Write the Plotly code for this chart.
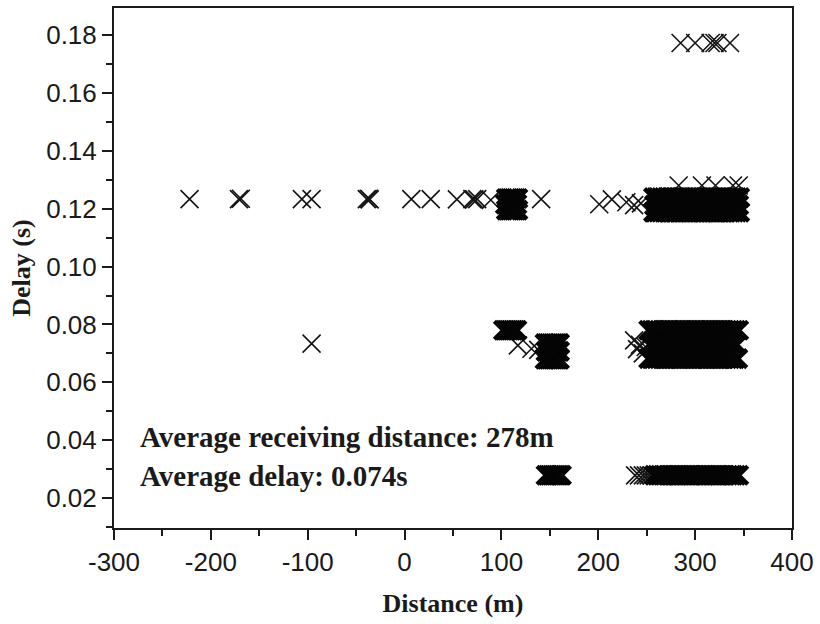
import plotly.graph_objects as go

# ---- data: receiving distance (m) vs. delay (s) ----

# isolated receptions: distance and delay per point
sparse_dist = [-222, -171, -169, -106, -96, -39, -37, -36, 7, 27, 54, 70, 72, 75, 89, 141,
               201, 214, 229, 237, 244,
               -96, 117, 131, 138,
               237, 240, 243, 246, 249,
               238, 242, 246, 249, 252, 255]
sparse_delay = [0.1233, 0.1233, 0.1234, 0.1233, 0.1233, 0.1233, 0.1234, 0.1232, 0.1233, 0.1233,
                0.1232, 0.1233, 0.1232, 0.1233, 0.1230, 0.1233,
                0.1215, 0.1232, 0.1222, 0.1212, 0.1218,
                0.0734, 0.0728, 0.0716, 0.0712,
                0.0745, 0.0715, 0.0730, 0.0700, 0.0722,
                0.0279, 0.0279, 0.0279, 0.0279, 0.0279, 0.0279]

# highest-delay receptions
top_dist = [285, 300, 316, 320, 323, 336]
top_delay = 0.1772

upper_dist = [283, 307, 321, 339, 345]
upper_delay = 0.1280

# near group around 100-120 m, delay ~0.12 s
near12_a = [105, 107, 109, 111, 113, 115, 117]
near12_b = [104, 106, 108, 110, 112, 114, 116]
near12_c = [105, 107, 109, 111, 113, 115, 117]

# near group around 100-120 m, delay ~0.078 s
near078 = [102, 104, 106, 108, 110, 112, 114, 116]

# group around 145-160 m, delay ~0.07 s
mid07_a = [145, 147, 149, 151, 153, 155, 157, 159, 160]
mid07_b = [146, 148, 150, 152, 154, 156, 158, 160]
mid07_c = [145, 147, 149, 151, 153, 155, 157, 159, 160]

# group around 145-162 m, delay ~0.028 s
mid028 = [146, 148, 150, 152, 154, 156, 158, 160, 162]

# far group, delay ~0.12 s
far12_a = [257, 260, 262, 265, 268, 271, 273, 276, 279, 282, 285, 287, 290, 293, 296,
           299, 301, 304, 307, 310, 313, 315, 318, 321, 324, 327, 329, 332, 335, 338,
           341, 343, 346]
far12_b = [258, 261, 264, 266, 269, 272, 275, 278, 280, 283, 286, 289, 292, 294, 297,
           300, 303, 306, 308, 311, 314, 317, 320, 322, 325, 328, 331, 334, 336, 339,
           342, 345]
far12_c = [257, 259, 262, 265, 268, 270, 273, 276, 279, 281, 284, 287, 290, 293, 295,
           298, 301, 304, 307, 309, 312, 315, 318, 321, 323, 326, 329, 332, 335, 337,
           340, 343, 346]

# far group, delay ~0.07 s
far07_a = [252, 255, 258, 260, 263, 266, 269, 272, 274, 277, 280, 283, 286, 288, 291,
           294, 297, 300, 302, 305, 308, 311, 314, 316, 319, 322, 325, 328, 330, 333,
           336, 339, 342, 345]
far07_b = [253, 256, 259, 262, 264, 267, 270, 273, 276, 278, 281, 284, 287, 290, 292,
           295, 298, 301, 304, 306, 309, 312, 315, 318, 320, 323, 326, 329, 332, 334,
           337, 340, 343]
far07_c = [252, 255, 257, 260, 263, 266, 269, 271, 274, 277, 280, 283, 285, 288, 291,
           294, 297, 299, 302, 305, 308, 311, 313, 316, 319, 322, 325, 327, 330, 333,
           336, 339, 341, 344]

# far group, delay ~0.028 s
far028 = [258, 261, 264, 267, 269, 272, 275, 278, 281, 283, 286, 289, 292, 295, 297,
          300, 303, 306, 309, 311, 314, 317, 320, 323, 325, 328, 331, 334, 337, 339,
          342, 345]

light_rows = [(top_dist, top_delay), (upper_dist, upper_delay)]
dense_rows = [
    (near12_a, 0.1235), (near12_b, 0.1215), (near12_c, 0.1195),
    (near078, 0.0780),
    (mid07_a, 0.0734), (mid07_b, 0.0707), (mid07_c, 0.0680),
    (mid028, 0.0279),
    (far12_a, 0.1238), (far12_b, 0.1212), (far12_c, 0.1188),
    (far07_a, 0.0780), (far07_b, 0.0730), (far07_c, 0.0682),
    (far028, 0.0279),
]

x_tick_vals = [-300, -200, -100, 0, 100, 200, 300, 400]
x_tick_text = ["-300", "-200", "-100", "0", "100", "200", "300", "400"]
y_tick_vals = [0.02, 0.04, 0.06, 0.08, 0.10, 0.12, 0.14, 0.16, 0.18]


def flatten(rows):
    xs, ys = [], []
    for dist, delay in rows:
        xs += dist
        ys += [delay] * len(dist)
    return xs, ys


ink = "#141414"
fig = go.Figure()

# individual receptions drawn with thin crosses
lx, ly = flatten(light_rows)
fig.add_trace(go.Scatter(
    x=list(sparse_dist) + lx, y=list(sparse_delay) + ly, mode="markers",
    marker=dict(symbol="x-thin-open", size=18, color=ink, line=dict(width=1.6, color=ink)),
    showlegend=False, hoverinfo="x+y",
))

# heavily overlapping receptions
dx, dy = flatten(dense_rows)
fig.add_trace(go.Scatter(
    x=dx, y=dy, mode="markers",
    marker=dict(symbol="x-thin-open", size=18, color="#050505",
                line=dict(width=4.4, color="#050505")),
    showlegend=False, hoverinfo="x+y",
))

tick_font = dict(family="Liberation Sans, Arial, sans-serif", size=26, color="#1a1a1a")
title_font = dict(family="Liberation Serif, Times New Roman, serif", size=26,
                  color="#1a1a1a", weight="bold")

fig.update_xaxes(
    range=[-300, 400], tickvals=x_tick_vals, ticktext=x_tick_text,
    ticks="outside", ticklen=10, tickwidth=2, tickcolor="#1a1a1a",
    minor=dict(dtick=50, tick0=0, ticks="outside", ticklen=6, tickwidth=2, tickcolor="#1a1a1a"),
    showline=True, linewidth=2, linecolor="#1a1a1a", mirror=True,
    showgrid=False, zeroline=False, tickfont=tick_font,
    title=dict(text="Distance (m)", font=title_font, standoff=18),
)
fig.update_yaxes(
    range=[0.0097, 0.1893], tickvals=y_tick_vals, tickformat=".2f",
    ticks="outside", ticklen=10, tickwidth=2, tickcolor="#1a1a1a",
    minor=dict(dtick=0.01, tick0=0, ticks="outside", ticklen=6, tickwidth=2, tickcolor="#1a1a1a"),
    showline=True, linewidth=2, linecolor="#1a1a1a", mirror=True,
    showgrid=False, zeroline=False, tickfont=tick_font,
    title=dict(text="Delay (s)", font=title_font, standoff=8),
)

note_font = dict(family="Liberation Serif, Times New Roman, serif", size=29,
                 color="#1a1a1a", weight="bold")
fig.add_annotation(x=-275, y=0.0413, xref="x", yref="y", xanchor="left", yanchor="middle",
                   text="Average receiving distance: 278m", showarrow=False, font=note_font)
fig.add_annotation(x=-275, y=0.0276, xref="x", yref="y", xanchor="left", yanchor="middle",
                   text="Average delay: 0.074s", showarrow=False, font=note_font)

fig.update_layout(
    width=820, height=624,
    margin=dict(l=114, r=28, t=6, b=96),
    paper_bgcolor="white", plot_bgcolor="white",
)

fig.write_html("out.html")
